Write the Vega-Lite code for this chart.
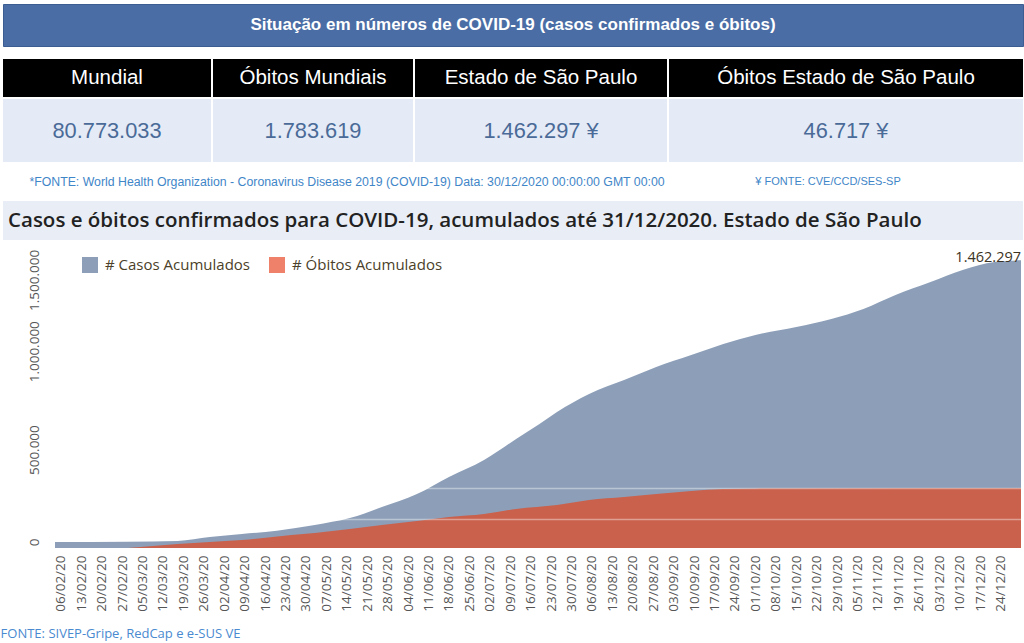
{
  "$schema": "https://vega.github.io/schema/vega-lite/v6.json",
  "padding": {"left": 0, "top": 3, "right": 0, "bottom": 0},
  "background": "#ffffff",
  "config": {
    "view": {"stroke": null},
    "locale": {"number": {"decimal": ",", "thousands": ".", "grouping": [3], "currency": ["R$", ""]}},
    "axis": {"labelOverlap": false},
    "axisX": {"labelOverlap": false},
    "text": {"font": "Liberation Sans"}
  },
  "datasets": {
    "tabela": [
      {"ordem": 1, "coluna": "Mundial", "valor": "80.773.033"},
      {"ordem": 2, "coluna": "Óbitos Mundiais", "valor": "1.783.619"},
      {"ordem": 3, "coluna": "Estado de São Paulo", "valor": "1.462.297 ¥"},
      {"ordem": 4, "coluna": "Óbitos Estado de São Paulo", "valor": "46.717 ¥"}
    ],
    "acumulados": [
      {"data": "2020-02-04", "indicador": "# Casos Acumulados", "valor": 30000},
      {"data": "2020-02-29", "indicador": "# Casos Acumulados", "valor": 32000},
      {"data": "2020-03-17", "indicador": "# Casos Acumulados", "valor": 36000},
      {"data": "2020-03-28", "indicador": "# Casos Acumulados", "valor": 56000},
      {"data": "2020-04-08", "indicador": "# Casos Acumulados", "valor": 71000},
      {"data": "2020-04-20", "indicador": "# Casos Acumulados", "valor": 88000},
      {"data": "2020-05-03", "indicador": "# Casos Acumulados", "valor": 117000},
      {"data": "2020-05-15", "indicador": "# Casos Acumulados", "valor": 152000},
      {"data": "2020-05-26", "indicador": "# Casos Acumulados", "valor": 208000},
      {"data": "2020-06-07", "indicador": "# Casos Acumulados", "valor": 274000},
      {"data": "2020-06-18", "indicador": "# Casos Acumulados", "valor": 361000},
      {"data": "2020-06-30", "indicador": "# Casos Acumulados", "valor": 447000},
      {"data": "2020-07-11", "indicador": "# Casos Acumulados", "valor": 554000},
      {"data": "2020-07-19", "indicador": "# Casos Acumulados", "valor": 630000},
      {"data": "2020-07-25", "indicador": "# Casos Acumulados", "valor": 691000},
      {"data": "2020-08-05", "indicador": "# Casos Acumulados", "valor": 783000},
      {"data": "2020-08-17", "indicador": "# Casos Acumulados", "valor": 854000},
      {"data": "2020-08-28", "indicador": "# Casos Acumulados", "valor": 920000},
      {"data": "2020-09-09", "indicador": "# Casos Acumulados", "valor": 981000},
      {"data": "2020-09-20", "indicador": "# Casos Acumulados", "valor": 1037000},
      {"data": "2020-10-01", "indicador": "# Casos Acumulados", "valor": 1083000},
      {"data": "2020-10-15", "indicador": "# Casos Acumulados", "valor": 1123000},
      {"data": "2020-10-27", "indicador": "# Casos Acumulados", "valor": 1164000},
      {"data": "2020-11-07", "indicador": "# Casos Acumulados", "valor": 1215000},
      {"data": "2020-11-18", "indicador": "# Casos Acumulados", "valor": 1286000},
      {"data": "2020-11-30", "indicador": "# Casos Acumulados", "valor": 1352000},
      {"data": "2020-12-11", "indicador": "# Casos Acumulados", "valor": 1413000},
      {"data": "2020-12-22", "indicador": "# Casos Acumulados", "valor": 1454000},
      {"data": "2020-12-31", "indicador": "# Casos Acumulados", "valor": 1462297},
      {"data": "2020-02-29", "indicador": "# Óbitos Acumulados", "valor": 0},
      {"data": "2020-03-17", "indicador": "# Óbitos Acumulados", "valor": 3100},
      {"data": "2020-03-28", "indicador": "# Óbitos Acumulados", "valor": 4700},
      {"data": "2020-04-08", "indicador": "# Óbitos Acumulados", "valor": 6200},
      {"data": "2020-04-25", "indicador": "# Óbitos Acumulados", "valor": 10100},
      {"data": "2020-05-03", "indicador": "# Óbitos Acumulados", "valor": 11700},
      {"data": "2020-05-15", "indicador": "# Óbitos Acumulados", "valor": 14800},
      {"data": "2020-05-26", "indicador": "# Óbitos Acumulados", "valor": 17900},
      {"data": "2020-06-07", "indicador": "# Óbitos Acumulados", "valor": 21000},
      {"data": "2020-06-18", "indicador": "# Óbitos Acumulados", "valor": 24100},
      {"data": "2020-06-30", "indicador": "# Óbitos Acumulados", "valor": 26500},
      {"data": "2020-07-11", "indicador": "# Óbitos Acumulados", "valor": 30400},
      {"data": "2020-07-25", "indicador": "# Óbitos Acumulados", "valor": 33500},
      {"data": "2020-08-05", "indicador": "# Óbitos Acumulados", "valor": 37400},
      {"data": "2020-08-17", "indicador": "# Óbitos Acumulados", "valor": 39700},
      {"data": "2020-08-28", "indicador": "# Óbitos Acumulados", "valor": 42100},
      {"data": "2020-09-09", "indicador": "# Óbitos Acumulados", "valor": 44400},
      {"data": "2020-09-20", "indicador": "# Óbitos Acumulados", "valor": 46000},
      {"data": "2020-10-01", "indicador": "# Óbitos Acumulados", "valor": 46400},
      {"data": "2020-10-15", "indicador": "# Óbitos Acumulados", "valor": 46600},
      {"data": "2020-12-31", "indicador": "# Óbitos Acumulados", "valor": 46717}
    ]
  },
  "spacing": 12,
  "resolve": {"legend": {"color": "independent"}},
  "vconcat": [
    {
      "width": 1020, "height": 42,
      "view": {"fill": "#4a6da5", "stroke": "#3c5d92"},
      "data": {"values": [{"texto": "Situação em números de COVID-19 (casos confirmados e óbitos)"}]},
      "mark": {"type": "text", "font": "Liberation Sans", "fontSize": 17, "fontWeight": "bold", "color": "#ffffff"},
      "encoding": {"text": {"field": "texto"}}
    },
    {
      "spacing": 2,
      "resolve": {"legend": {"color": "independent"}},
      "vconcat": [
        {
          "spacing": 2,
          "hconcat": [
            {"width": 208, "height": 38, "view": {"fill": "#000000"}, "data": {"name": "tabela"}, "transform": [{"filter": "datum.ordem === 1"}],
             "mark": {"type": "text", "fontSize": 20.5, "color": "#ffffff"}, "encoding": {"text": {"field": "coluna"}}},
            {"width": 200, "height": 38, "view": {"fill": "#000000"}, "data": {"name": "tabela"}, "transform": [{"filter": "datum.ordem === 2"}],
             "mark": {"type": "text", "fontSize": 20.5, "color": "#ffffff"}, "encoding": {"text": {"field": "coluna"}}},
            {"width": 252, "height": 38, "view": {"fill": "#000000"}, "data": {"name": "tabela"}, "transform": [{"filter": "datum.ordem === 3"}],
             "mark": {"type": "text", "fontSize": 20.5, "color": "#ffffff"}, "encoding": {"text": {"field": "coluna"}}},
            {"width": 354, "height": 38, "view": {"fill": "#000000"}, "data": {"name": "tabela"}, "transform": [{"filter": "datum.ordem === 4"}],
             "mark": {"type": "text", "fontSize": 20.5, "color": "#ffffff"}, "encoding": {"text": {"field": "coluna"}}}
          ]
        },
        {
          "spacing": 0,
          "resolve": {"legend": {"color": "independent"}},
          "vconcat": [
            {
              "spacing": 2,
              "hconcat": [
                {"width": 208, "height": 63, "view": {"fill": "#e4ebf6"}, "data": {"name": "tabela"}, "transform": [{"filter": "datum.ordem === 1"}],
                 "mark": {"type": "text", "fontSize": 21.8, "color": "#4a6a98"}, "encoding": {"text": {"field": "valor"}}},
                {"width": 200, "height": 63, "view": {"fill": "#e4ebf6"}, "data": {"name": "tabela"}, "transform": [{"filter": "datum.ordem === 2"}],
                 "mark": {"type": "text", "fontSize": 21.8, "color": "#4a6a98"}, "encoding": {"text": {"field": "valor"}}},
                {"width": 252, "height": 63, "view": {"fill": "#e4ebf6"}, "data": {"name": "tabela"}, "transform": [{"filter": "datum.ordem === 3"}],
                 "mark": {"type": "text", "fontSize": 21.8, "color": "#4a6a98"}, "encoding": {"text": {"field": "valor"}}},
                {"width": 354, "height": 63, "view": {"fill": "#e4ebf6"}, "data": {"name": "tabela"}, "transform": [{"filter": "datum.ordem === 4"}],
                 "mark": {"type": "text", "fontSize": 21.8, "color": "#4a6a98"}, "encoding": {"text": {"field": "valor"}}}
              ]
            },
            {
              "spacing": 0,
              "hconcat": [
                {"width": 688, "height": 39,
                 "data": {"values": [{"nota": "*FONTE: World Health Organization - Coronavirus Disease 2019 (COVID-19) Data: 30/12/2020 00:00:00 GMT 00:00"}]},
                 "mark": {"type": "text", "fontSize": 12.3, "color": "#3f86c8"}, "encoding": {"text": {"field": "nota"}}},
                {"width": 274, "height": 39,
                 "data": {"values": [{"nota": "¥ FONTE: CVE/CCD/SES-SP"}]},
                 "mark": {"type": "text", "fontSize": 11, "color": "#3f86c8"}, "encoding": {"text": {"field": "nota"}}}
              ]
            },
            {
              "spacing": 5,
              "resolve": {"legend": {"color": "independent"}},
              "vconcat": [
                {
                  "width": 1020, "height": 39,
                  "view": {"fill": "#e9eef6"},
                  "data": {"values": [{"titulo": "Casos e óbitos confirmados para COVID-19, acumulados até 31/12/2020. Estado de São Paulo"}]},
                  "mark": {"type": "text", "align": "left", "dx": 5, "font": "Open Sans", "fontSize": 20.5, "fontWeight": 600, "color": "#222222"},
                  "encoding": {
                    "x": {"field": "titulo", "type": "nominal", "axis": null, "scale": {"type": "point", "padding": 0, "align": 0}},
                    "text": {"field": "titulo"}
                  }
                },
                {
                  "spacing": 12,
                  "resolve": {"legend": {"color": "independent"}},
                  "vconcat": [
                    {
                      "width": 1018, "height": 303,
                      "data": {"name": "acumulados"},
                      "resolve": {"scale": {"y": "independent"}},
                      "layer": [
                        {
                          "layer": [
                            {
                              "transform": [{"filter": "datum.indicador === '# Casos Acumulados'"}],
                              "mark": {"type": "area", "interpolate": "monotone"},
                              "encoding": {
                                "x": {
                                  "field": "data", "type": "temporal", "scale": {"type": "utc", "range": [52, 1018]},
                                  "axis": {
                                    "title": null, "format": "%d/%m/%y", "labelAngle": -90,
                                    "labelFont": "Open Sans", "labelFontSize": 13.5, "labelColor": "#555555",
                                    "ticks": false, "domain": false, "grid": false, "labelPadding": 7,
                                    "labelOverlap": false, "labelFlush": false, "labelBound": false, "labelSeparation": 0,
                                    "values": [1580947200000, 1581552000000, 1582156800000, 1582761600000, 1583366400000, 1583971200000, 1584576000000, 1585180800000, 1585785600000, 1586390400000, 1586995200000, 1587600000000, 1588204800000, 1588809600000, 1589414400000, 1590019200000, 1590624000000, 1591228800000, 1591833600000, 1592438400000, 1593043200000, 1593648000000, 1594252800000, 1594857600000, 1595462400000, 1596067200000, 1596672000000, 1597276800000, 1597881600000, 1598486400000, 1599091200000, 1599696000000, 1600300800000, 1600905600000, 1601510400000, 1602115200000, 1602720000000, 1603324800000, 1603929600000, 1604534400000, 1605139200000, 1605744000000, 1606348800000, 1606953600000, 1607558400000, 1608163200000, 1608768000000]
                                  }
                                },
                                "y": {
                                  "field": "valor", "type": "quantitative", "stack": null,
                                  "scale": {"domain": [0, 1540000], "nice": false},
                                  "axis": {
                                    "title": null, "values": [0, 500000, 1000000, 1500000], "format": ",d",
                                    "labelAngle": -90, "labelFont": "Open Sans", "labelFontSize": 13.5, "labelColor": "#555555",
                                    "ticks": false, "domain": false, "grid": false, "labelPadding": 14, "offset": -52, "minExtent": 0,
                                    "labelOffset": {"condition": [{"test": "datum.value === 1500000", "value": 27}, {"test": "datum.value === 0", "value": -6}], "value": 0}
                                  }
                                },
                                "color": {
                                  "field": "indicador", "type": "nominal",
                                  "scale": {"domain": ["# Casos Acumulados", "# Óbitos Acumulados"], "range": ["#8d9fb8", "#ef8069"]},
                                  "legend": {
                                    "title": null, "orient": "none", "legendX": 79, "legendY": 12, "direction": "horizontal", "padding": 0,
                                    "symbolType": "square", "symbolSize": 256, "symbolStrokeWidth": 0,
                                    "labelFont": "Open Sans", "labelFontSize": 15, "labelColor": "#4b3f2a", "labelLimit": 400,
                                    "labelOffset": 7, "columnPadding": 18
                                  }
                                }
                              }
                            },
                            {
                              "transform": [{"filter": "datum.valor === 1462297"}],
                              "mark": {"type": "text", "align": "right", "baseline": "middle", "dy": -2, "font": "Open Sans", "fontSize": 14.5, "color": "#3b3323"},
                              "encoding": {
                                "x": {
                                  "field": "data", "type": "temporal", "scale": {"type": "utc", "range": [52, 1018]},
                                  "axis": {
                                    "title": null, "format": "%d/%m/%y", "labelAngle": -90,
                                    "labelFont": "Open Sans", "labelFontSize": 13.5, "labelColor": "#555555",
                                    "ticks": false, "domain": false, "grid": false, "labelPadding": 7,
                                    "labelOverlap": false, "labelFlush": false, "labelBound": false, "labelSeparation": 0,
                                    "values": [1580947200000, 1581552000000, 1582156800000, 1582761600000, 1583366400000, 1583971200000, 1584576000000, 1585180800000, 1585785600000, 1586390400000, 1586995200000, 1587600000000, 1588204800000, 1588809600000, 1589414400000, 1590019200000, 1590624000000, 1591228800000, 1591833600000, 1592438400000, 1593043200000, 1593648000000, 1594252800000, 1594857600000, 1595462400000, 1596067200000, 1596672000000, 1597276800000, 1597881600000, 1598486400000, 1599091200000, 1599696000000, 1600300800000, 1600905600000, 1601510400000, 1602115200000, 1602720000000, 1603324800000, 1603929600000, 1604534400000, 1605139200000, 1605744000000, 1606348800000, 1606953600000, 1607558400000, 1608163200000, 1608768000000]
                                  }
                                },
                                "y": {"field": "valor", "type": "quantitative"},
                                "text": {"field": "valor", "type": "quantitative", "format": ",d"}
                              }
                            }
                          ]
                        },
                        {
                          "transform": [{"filter": "datum.indicador === '# Óbitos Acumulados'"}],
                          "mark": {"type": "area", "interpolate": "monotone", "color": "#c9614c"},
                          "encoding": {
                            "x": {
                              "field": "data", "type": "temporal", "scale": {"type": "utc", "range": [52, 1018]},
                              "axis": {
                                "title": null, "format": "%d/%m/%y", "labelAngle": -90,
                                "labelFont": "Open Sans", "labelFontSize": 13.5, "labelColor": "#555555",
                                "ticks": false, "domain": false, "grid": false, "labelPadding": 7,
                                "labelOverlap": false, "labelFlush": false, "labelBound": false, "labelSeparation": 0,
                                "values": [1580947200000, 1581552000000, 1582156800000, 1582761600000, 1583366400000, 1583971200000, 1584576000000, 1585180800000, 1585785600000, 1586390400000, 1586995200000, 1587600000000, 1588204800000, 1588809600000, 1589414400000, 1590019200000, 1590624000000, 1591228800000, 1591833600000, 1592438400000, 1593043200000, 1593648000000, 1594252800000, 1594857600000, 1595462400000, 1596067200000, 1596672000000, 1597276800000, 1597881600000, 1598486400000, 1599091200000, 1599696000000, 1600300800000, 1600905600000, 1601510400000, 1602115200000, 1602720000000, 1603324800000, 1603929600000, 1604534400000, 1605139200000, 1605744000000, 1606348800000, 1606953600000, 1607558400000, 1608163200000, 1608768000000]
                              }
                            },
                            "y": {
                              "field": "valor", "type": "quantitative", "stack": null,
                              "scale": {"domain": [0, 236000], "nice": false},
                              "axis": {
                                "orient": "left", "title": null, "labels": false, "ticks": false, "domain": false,
                                "grid": true, "values": [22800, 46717], "gridColor": "#ffffff", "gridOpacity": 0.4, "gridWidth": 1.5,
                                "zindex": 1, "minExtent": 0, "maxExtent": 0
                              }
                            }
                          }
                        }
                      ]
                    },
                    {
                      "width": 235, "height": 20,
                      "data": {"values": [{"fonte": "FONTE: SIVEP-Gripe, RedCap e e-SUS VE"}]},
                      "mark": {"type": "text", "font": "Open Sans", "fontSize": 13, "color": "#4a8ad0"},
                      "encoding": {"text": {"field": "fonte"}}
                    }
                  ]
                }
              ]
            }
          ]
        }
      ]
    }
  ]
}
